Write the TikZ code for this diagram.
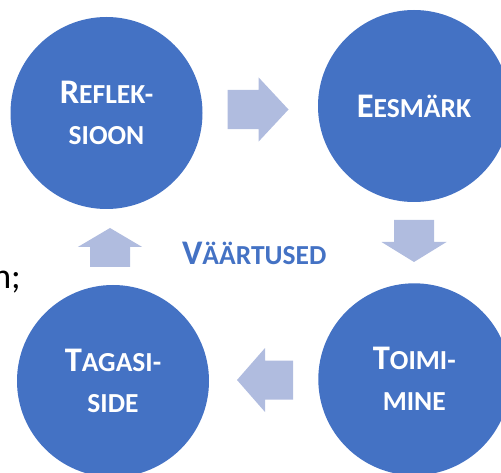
\documentclass[tikz,border=0pt]{standalone}
\usepackage{fontspec}
\setmainfont{Carlito}
\usepackage{tikz}

\definecolor{circblue}{HTML}{4472C4}
\definecolor{arrowblue}{HTML}{B0BCDF}

\newcommand{\capsz}{\fontsize{34.5}{41}\selectfont}

\tikzset{
  stage/.style={circle, fill=circblue, minimum size=192pt, inner sep=0pt,
    text=white, align=center, font=\bfseries\fontsize{27.5}{41}\selectfont},
  arrowfill/.style={fill=arrowblue}
}

\begin{document}
\begin{tikzpicture}[x=1pt, y=1pt]

    \useasboundingbox (0,0) rectangle (501,-473);
    \clip (0,0) rectangle (501,-473);

    % the four stages
    \node[stage] (refl) at (106.5,-113) {{\capsz R}EFLEK-\\SIOON};
    \node[stage] (eesm) at (414,-106) {{\capsz E}ESMÄRK};
    \node[stage] (toimi) at (414.3,-379.3) {{\capsz T}OIMI-\\MINE};
    \node[stage] (tagasi) at (113,-381) {{\capsz T}AGASI-\\SIDE};

    \node[text=circblue, font=\bfseries\fontsize{27.5}{41}\selectfont] (vaart)
      at (254.2,-253.5) {{\capsz V}ÄÄRTUSED};

    \node[font=\fontsize{36}{43}\selectfont, anchor=base east, inner sep=0pt] (frag)
      at (21,-288.3) {n;};



    \begin{scope}[shift={(227.5,-109.5)}]

      \fill[arrowfill] (0,-19.7) -- (31,-19.7) -- (31,-32.2) -- (61,0)
        -- (31,32.2) -- (31,19.7) -- (0,19.7) -- cycle;

    \end{scope}



    \begin{scope}[shift={(414,-220)}, rotate=-90]

      \fill[arrowfill] (0,-20) -- (22,-20) -- (22,-32.5) -- (42,0)
        -- (22,32.5) -- (22,20) -- (0,20) -- cycle;

    \end{scope}



    \begin{scope}[shift={(293,-380)}, rotate=180]

      \fill[arrowfill] (0,-19.5) -- (28,-19.5) -- (28,-32) -- (56,0)
        -- (28,32) -- (28,19.5) -- (0,19.5) -- cycle;

    \end{scope}



    \begin{scope}[shift={(110,-267)}, rotate=90]

      \fill[arrowfill] (0,-20) -- (20,-20) -- (20,-32.2) -- (39,0)
        -- (20,32.2) -- (20,20) -- (0,20) -- cycle;

    \end{scope}

  \end{tikzpicture}
\end{document}
